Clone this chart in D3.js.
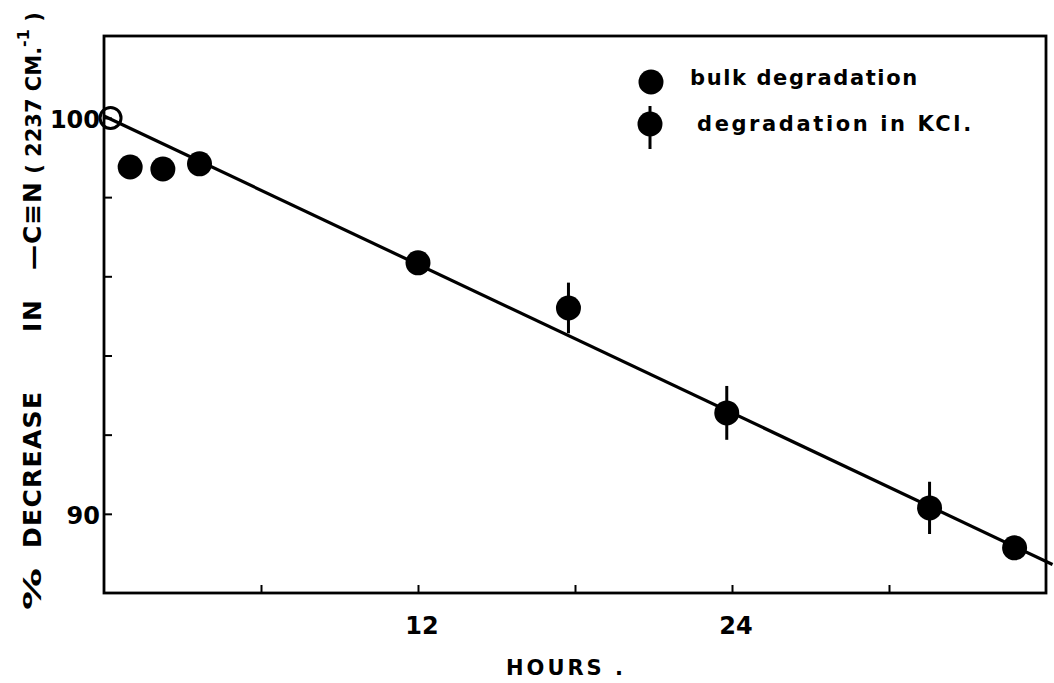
<!DOCTYPE html>
<html>
<head>
<meta charset="utf-8">
<script src="https://cdn.jsdelivr.net/npm/d3@7"></script>
<style>
  body{margin:0;background:#fff;}
  text{font-family:"DejaVu Sans",sans-serif;font-weight:bold;fill:#000;white-space:pre;}
</style>
</head>
<body>
<svg id="chart" width="1054" height="683"></svg>
<script>
// readings
var startPoint=[{h:0.25,v:100}];
var bulkHours=[1.0,2.25,3.65,12,34.8];
var bulkValues=[98.76,98.71,98.84,96.34,89.14];
var kclHours=[17.75,23.8,31.55];
var kclValues=[95.2,92.55,90.15];
var kclErr=[0.64,0.68,0.66];
var fitLine=[{h:0,v:100.05},{h:36.25,v:88.72}];
var xTicks=[6,12,18,24,30];
var xTickLabels={12:'12',24:'24'};
var yTicks=[90,92,94,96,98,100];
var yTickLabels={90:'90',100:'100'};

var m={left:104,top:36,right:1046,bottom:593};
var svg=d3.select('#chart');
var x=d3.scaleLinear().domain([0,36]).range([m.left,m.right]);
var y=d3.scaleLinear().domain([88,102.07]).range([m.bottom,m.top]);

// frame
svg.append('rect').attr('x',m.left).attr('y',m.top)
  .attr('width',m.right-m.left).attr('height',m.bottom-m.top)
  .style('fill','none').style('stroke','#000').style('stroke-width',2.8);

// axes (inner ticks, labels only on some)
var xa=svg.append('g').attr('transform','translate(0,'+m.bottom+')')
  .call(d3.axisTop(x).tickValues(xTicks).tickSize(8).tickFormat(''));
xa.select('.domain').remove();
xa.selectAll('line').style('stroke-width',2);
svg.selectAll('.xlab').data(xTicks.filter(d=>xTickLabels[d])).enter().append('text')
  .attr('x',d=>x(d)+4).attr('y',634).attr('text-anchor','middle')
  .style('font-size','24px').text(d=>xTickLabels[d]);

var ya=svg.append('g').attr('transform','translate('+m.left+',0)')
  .call(d3.axisRight(y).tickValues(yTicks).tickSize(8).tickFormat(''));
ya.select('.domain').remove();
ya.selectAll('line').style('stroke-width',2);
svg.selectAll('.ylab').data(yTicks.filter(d=>yTickLabels[d])).enter().append('text')
  .attr('x',m.left-4).attr('y',d=>y(d)+10).attr('text-anchor','end')
  .style('font-size','24px').text(d=>yTickLabels[d]);

// axis titles
svg.append('text').attr('x',566).attr('y',675).attr('text-anchor','middle')
  .style('font-size','21px').style('letter-spacing','3px').text('HOURS .');

// y title: hand lettered with wide gaps, so set word groups one by one
function ytitle(cy,str,len,adj){
  var t=svg.append('text').attr('transform','translate(41,'+cy+') rotate(-90)')
    .attr('text-anchor','middle').style('font-size','25px').text(str);
  if(len) t.attr('textLength',len).attr('lengthAdjust',adj||'spacing');
  return t;
}
ytitle(589,'%',42,'spacingAndGlyphs');
ytitle(470,'DECREASE',156);
ytitle(316,'IN',32);
ytitle(226,'\u2014C\u2261N',88);
var yt=ytitle(93,'').style('font-size','21px');
yt.append('tspan').text('( 2237 CM.');
yt.append('tspan').attr('dy',-12).style('font-size','16px').text('-1');
yt.append('tspan').attr('dy',12).text(' )');

// fitted line
svg.append('path').datum(fitLine)
  .attr('d',d3.line().x(d=>x(d.h)).y(d=>y(d.v)))
  .style('fill','none').style('stroke','#000').style('stroke-width',3.2);

// open starting point
svg.selectAll('.open').data(startPoint).enter().append('circle')
  .attr('cx',d=>x(d.h)).attr('cy',d=>y(d.v)).attr('r',10.5)
  .style('fill','none').style('stroke','#000').style('stroke-width',3);

// bulk degradation
svg.selectAll('.bulk').data(bulkHours).enter().append('circle')
  .attr('cx',d=>x(d)).attr('cy',(d,i)=>y(bulkValues[i])).attr('r',12.5)
  .style('fill','#000');

// degradation in KCl with bars
var kcl=svg.selectAll('.kcl').data(kclHours).enter().append('g');
kcl.append('line')
  .attr('x1',d=>x(d)).attr('x2',d=>x(d))
  .attr('y1',(d,i)=>y(kclValues[i]+kclErr[i])).attr('y2',(d,i)=>y(kclValues[i]-kclErr[i]))
  .style('stroke','#000').style('stroke-width',3);
kcl.append('circle')
  .attr('cx',d=>x(d)).attr('cy',(d,i)=>y(kclValues[i])).attr('r',12.5)
  .style('fill','#000');

// legend
var lg=svg.append('g');
lg.append('circle').attr('cx',651).attr('cy',82).attr('r',12.5).style('fill','#000');
lg.append('text').attr('x',690).attr('y',85).style('font-size','21px')
  .style('letter-spacing','1.6px').text('bulk degradation');
lg.append('line').attr('x1',650).attr('x2',650).attr('y1',106).attr('y2',149)
  .style('stroke','#000').style('stroke-width',3);
lg.append('circle').attr('cx',650).attr('cy',124).attr('r',12.5).style('fill','#000');
lg.append('text').attr('x',697).attr('y',131).style('font-size','21px')
  .style('letter-spacing','2.6px').text('degradation in KCl.');
</script>
</body>
</html>
